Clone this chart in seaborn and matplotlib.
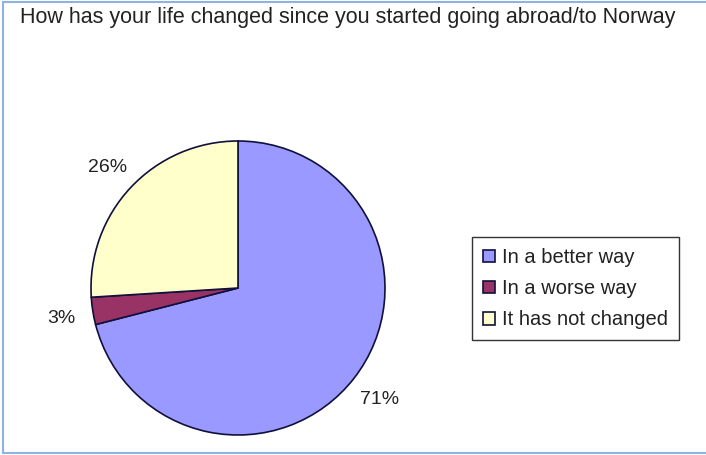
import matplotlib
matplotlib.use("Agg")
import matplotlib.pyplot as plt
import seaborn as sns
from matplotlib.lines import Line2D

# Survey answers (percent of respondents)
categories = ["In a better way", "In a worse way", "It has not changed"]
shares = [71, 3, 26]
title = "How has your life changed since you started going abroad/to Norway"

sns.set_style("white")
plt.rcParams["font.family"] = ["Liberation Sans", "DejaVu Sans"]

colors = sns.color_palette(["#9999FF", "#993366", "#FFFFCC"])

W, H = 706, 455
fig = plt.figure(figsize=(W / 100, H / 100), dpi=100)
fig.patch.set_facecolor("white")

# Pie axes: centre (238, 288) px, radius 147 px
cx, cy, r = 238, 288, 147
ax = fig.add_axes([(cx - r) / W, (H - cy - r) / H, 2 * r / W, 2 * r / H])
wedges, texts, autotexts = ax.pie(
    shares,
    colors=colors,
    startangle=90,
    counterclock=False,
    autopct="%.0f%%",
    pctdistance=1.22,
    wedgeprops=dict(edgecolor="#10103a", linewidth=1.2),
    textprops=dict(fontsize=14, color="#222222"),
)
for t in autotexts:
    t.set_va("center_baseline")
ax.set_xlim(-1, 1)
ax.set_ylim(-1, 1)
ax.set_aspect("equal")
ax.axis("off")

fig.text(20 / W, 1 - 18 / H, title, fontsize=15.5, color="#222222",
         ha="left", va="center")

leg = fig.legend(
    wedges, categories,
    loc="upper left",
    bbox_to_anchor=(472 / W, 1 - 237 / H),
    fontsize=14.5,
    frameon=True,
    fancybox=False,
    shadow=False,
    handlelength=0.6,
    handleheight=0.6,
    handletextpad=0.35,
    labelspacing=0.6,
    borderpad=0.55,
    borderaxespad=0,
)
leg.get_frame().set_edgecolor("black")
leg.get_frame().set_linewidth(1.0)
for t in leg.get_texts():
    t.set_color("#222222")

# Light blue frame around the chart area
bc = "#8db3e2"
fig.add_artist(Line2D([3 / W, 3 / W], [1 - 2 / H, 1 - 453 / H], color=bc, lw=1.5))
fig.add_artist(Line2D([3 / W, 1], [1 - 2 / H, 1 - 2 / H], color=bc, lw=1.5))
fig.add_artist(Line2D([3 / W, 1], [1 - 453 / H, 1 - 453 / H], color=bc, lw=1.5))

fig.savefig("out.png", dpi=100)
